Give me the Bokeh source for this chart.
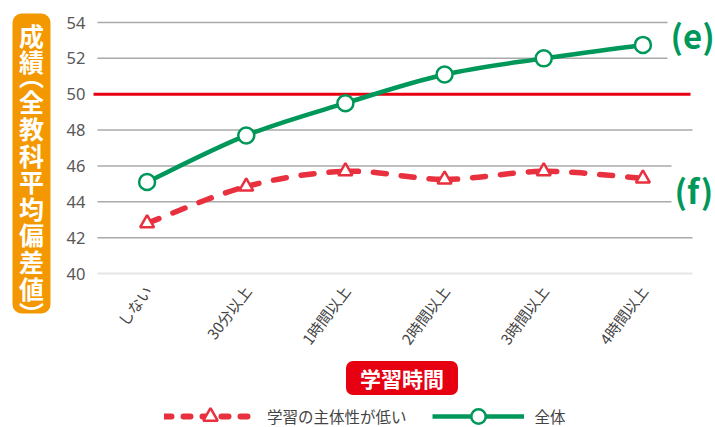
import math
from bokeh.plotting import figure
from bokeh.models import Range1d, Label, Legend, LegendItem, ColumnDataSource
from bokeh.core.properties import value
from bokeh.embed import file_html
from bokeh.resources import INLINE

categories = ["しない", "30分以上", "1時間以上", "2時間以上", "3時間以上", "4時間以上"]
overall = [45.1, 47.7, 49.5, 51.1, 52.0, 52.75]
low_initiative = [42.8, 44.85, 45.7, 45.25, 45.7, 45.3]
y_ticks = [40, 42, 44, 46, 48, 50, 52, 54]
series_names = ["学習の主体性が低い", "全体"]
reference_value = 50
y_title = "成績(全教科平均偏差値)"
x_title = "学習時間"

GREEN = "#00975a"
RED = "#e8303f"
RED2 = "#e60012"
ORANGE = "#f39800"
FONT = "Noto Sans CJK JP"

W, H = 715, 427
# plot-area geometry (pixels within the canvas)
LEFT_PX, RIGHT_PX, TOP_PX, BOTTOM_PX = 97, 692, 22, 273
n = len(categories)
x_per_px = n / (RIGHT_PX - LEFT_PX)
y_per_px = (y_ticks[-1] - y_ticks[0]) / (BOTTOM_PX - TOP_PX)
x_start = -0.5 - LEFT_PX * x_per_px
x_end = -0.5 + (W - LEFT_PX) * x_per_px
y_end = y_ticks[-1] + TOP_PX * y_per_px
y_start = y_ticks[0] - (H - BOTTOM_PX) * y_per_px


def px_x(px):
    return x_start + px * x_per_px


def px_y(py):
    return y_end - py * y_per_px


p = figure(width=W, height=H, output_backend="svg", toolbar_location=None,
           x_range=Range1d(x_start, x_end), y_range=Range1d(y_start, y_end),
           min_border=0)
p.outline_line_color = None
p.axis.visible = False
p.grid.visible = False
p.background_fill_color = "white"

xs = list(range(n))
gx0 = -0.5
gx1 = n - 0.5

# grid lines
grid_y = [t for t in y_ticks if t not in (y_ticks[0], reference_value)]
p.segment(x0=[gx0] * len(grid_y), x1=[gx1] * len(grid_y), y0=grid_y, y1=grid_y,
          line_color="#aaaaaa", line_width=1.5)
p.segment(x0=[gx0], x1=[gx1], y0=[y_ticks[0]], y1=[y_ticks[0]], line_color="#e6e6e6", line_width=2)
p.segment(x0=[gx0 - 0.04], x1=[gx1 - 0.02], y0=[reference_value], y1=[reference_value],
          line_color=RED2, line_width=3)

# y tick labels
p.text(x=[gx0 - 12 * x_per_px] * len(y_ticks), y=y_ticks, text=[str(t) for t in y_ticks],
       text_align="right", text_baseline="middle", text_font=value("Noto Sans"),
       text_font_size="16.5px", text_color="#595757")

# x tick labels (rotated)
p.text(x=[x + 0.01 for x in xs], y=[y_ticks[0] - 14 * y_per_px] * n, text=categories,
       angle=math.radians(53), text_align="right", text_baseline="middle",
       text_font=value(FONT), text_font_size="15px", text_color="#444444")


def bezier_source(xv, yv):
    m = len(xv)
    d = dict(x0=[], y0=[], x1=[], y1=[], cx0=[], cy0=[], cx1=[], cy1=[])
    for i in range(m - 1):
        xm, ym = (xv[i - 1], yv[i - 1]) if i > 0 else (xv[i], yv[i])
        xp, yp = (xv[i + 2], yv[i + 2]) if i + 2 < m else (xv[i + 1], yv[i + 1])
        d["x0"].append(xv[i]); d["y0"].append(yv[i])
        d["x1"].append(xv[i + 1]); d["y1"].append(yv[i + 1])
        d["cx0"].append(xv[i] + (xv[i + 1] - xm) / 6); d["cy0"].append(yv[i] + (yv[i + 1] - ym) / 6)
        d["cx1"].append(xv[i + 1] - (xp - xv[i]) / 6); d["cy1"].append(yv[i + 1] - (yp - yv[i]) / 6)
    return ColumnDataSource(d)


p.bezier(x0="x0", y0="y0", x1="x1", y1="y1", cx0="cx0", cy0="cy0", cx1="cx1", cy1="cy1",
         source=bezier_source(xs, low_initiative), line_color=RED, line_width=5.5,
         line_dash="13 15", line_cap="round")
p.bezier(x0="x0", y0="y0", x1="x1", y1="y1", cx0="cx0", cy0="cy0", cx1="cx1", cy1="cy1",
         source=bezier_source(xs, overall), line_color=GREEN, line_width=4.5)

r_red_pts = p.scatter(xs, low_initiative, marker="triangle", size=14, fill_color="white",
                      line_color=RED, line_width=2.5)
r_green_pts = p.scatter(xs, overall, marker="circle", size=16, fill_color="white",
                        line_color=GREEN, line_width=2.5)

# legend proxies (drawn outside the visible range)
leg_red_line = p.line([0, 1], [y_start - 10] * 2, line_color=RED, line_width=6,
                      line_dash="7 12", line_cap="round")
leg_green_line = p.line([0, 1], [y_start - 10] * 2, line_color=GREEN, line_width=4.5)

legend = Legend(items=[
    LegendItem(label=series_names[0], renderers=[leg_red_line, r_red_pts]),
    LegendItem(label=series_names[1], renderers=[leg_green_line, r_green_pts]),
], location=(164, -7), orientation="horizontal", glyph_width=92, glyph_height=36,
    label_standoff=11, spacing=25, padding=0, margin=0, border_line_color=None,
    background_fill_alpha=0, label_text_font=FONT, label_text_font_size="15.5px",
    label_text_color="#444444", label_text_baseline="middle")
p.add_layout(legend)

# y axis title: vertical stacked characters in a rounded orange box
box_top, box_bottom, box_cx = 13, 313, 31
p.rect(x=[px_x(box_cx)], y=[px_y((box_top + box_bottom) / 2)], width=38, height=box_bottom - box_top,
       width_units="screen", height_units="screen", fill_color=ORANGE, line_color=None,
       border_radius=9)
vertical_forms = {"(": "︵", ")": "︶"}
pitch = 26.6
chars, cy = [], []
cum = 21.0
for ch in y_title:
    if ch in vertical_forms:
        slot = 0.5 * pitch
        # vertical bracket glyphs sit off-centre in their em box
        shift = -6 if ch == "(" else 6
        chars.append(vertical_forms[ch])
        cy.append(cum + slot / 2 + shift)
    else:
        slot = pitch
        chars.append(ch)
        cy.append(cum + slot / 2)
    cum += slot
p.text(x=[px_x(box_cx)] * len(chars), y=[px_y(v) for v in cy], text=chars,
       text_align="center", text_baseline="middle", text_font=value(FONT),
       text_font_size="25px", text_font_style="bold", text_color="white")

# x axis title
p.add_layout(Label(x=px_x(401.5), y=px_y(377.5), text=x_title,
                   text_align="center", text_baseline="middle",
                   text_font=FONT, text_font_size="21px", text_font_style="bold", text_color="white",
                   background_fill_color=RED2, border_radius=7,
                   padding=dict(left=14, right=14, top=2, bottom=2)))

# panel letters
p.add_layout(Label(x=px_x(667), y=px_y(34), text="(e)",
                   text_align="left", text_baseline="middle",
                   text_font=FONT, text_font_size="33px", text_font_style="bold", text_color=GREEN,
                   background_fill_color="white", padding=3))
p.add_layout(Label(x=px_x(671), y=px_y(189), text="(f)",
                   text_align="left", text_baseline="middle",
                   text_font=FONT, text_font_size="33px", text_font_style="bold", text_color=GREEN,
                   background_fill_color="white", padding=3))

open("out.html", "w").write(file_html(p, INLINE))
